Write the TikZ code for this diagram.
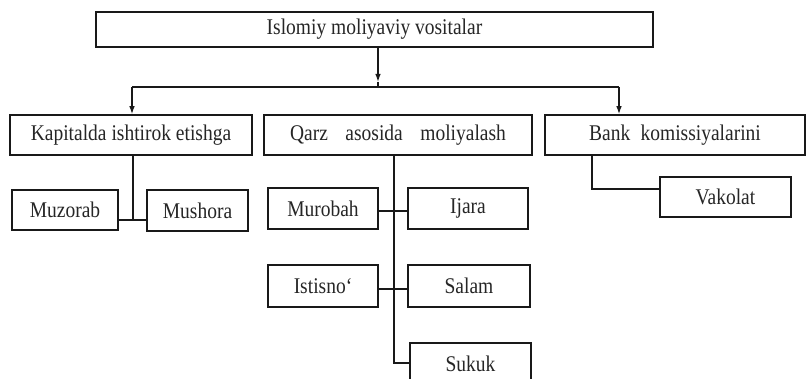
\documentclass[tikz,border=0pt]{standalone}
\usepackage{fontspec}
\usepackage{graphicx}
\setmainfont{Liberation Serif}
\usetikzlibrary{arrows.meta}
\newcommand{\mytx}[1]{\scalebox{1}[1.15]{#1}}
\tikzset{
  box/.style={draw=black!90, line width=1.5pt, inner sep=0pt, anchor=center,
    text=black!85, font=\fontsize{19.5}{22}\selectfont},
  conn/.style={draw=black!90, line width=1.3pt},
  arr/.style={conn, -{Latex[length=8pt,width=5.5pt]}}
}
\begin{document}
\begin{tikzpicture}[x=1pt,y=-1pt]
\useasboundingbox (0,0) rectangle (806,379);
\fill[white] (0,0) rectangle (806,379);
\clip (0,0) rectangle (806,379);
% boxes
\node[box, minimum width=557pt, minimum height=35pt] (top) at (374.5,29.5) {\mytx{Islomiy moliyaviy vositalar}};
\node[box, minimum width=242pt, minimum height=40pt] (kap) at (131,135) {\mytx{Kapitalda ishtirok etishga}};
\node[box, minimum width=268pt, minimum height=40pt] (qarz) at (398,135) {\mytx{Qarz\hspace{0.65em} asosida\hspace{0.65em} moliyalash}};
\node[box, minimum width=260pt, minimum height=40pt] (bank) at (675,135) {\mytx{Bank\hspace{0.28em} komissiyalarini}};
\node[box, minimum width=106pt, minimum height=40pt] (muz) at (65,210) {\mytx{Muzorab}};
\node[box, minimum width=101pt, minimum height=41pt] (mush) at (197.5,210.5) {\mytx{Mushora}};
\node[box, minimum width=110pt, minimum height=41pt] (mur) at (323,208.5) {\mytx{Murobah}};
\node[box, minimum width=120pt, minimum height=41pt] (ijara) at (468,208.5) {\mytx{Ijara}};
\node[box, minimum width=110pt, minimum height=42pt] (ist) at (323,286) {\mytx{Istisno‘}};
\node[box, minimum width=122pt, minimum height=42pt] (salam) at (469,286) {\mytx{Salam}};
\node[box, minimum width=121pt, minimum height=41pt] (sukuk) at (470.5,363.5) {\mytx{Sukuk}};
\node[box, minimum width=131pt, minimum height=40pt] (vak) at (725.5,197) {\mytx{Vakolat}};
% junction coordinates
\coordinate (jt) at (378,82);
\coordinate (j) at (378,87);
\coordinate (jl) at (132,87);
\coordinate (jr) at (619,87);
\coordinate (k1) at (133,220);
\coordinate (q1) at (394,211);
\coordinate (q2) at (394,289);
\coordinate (q3) at (394,363);
\coordinate (b1) at (592,189);
% connectors
\draw[arr] (top.south -| jt) -- (jt);
\draw[conn] (jt) -- (j);
\draw[conn] (jl) -- (jr);
\draw[arr] (jl) -- (jl |- kap.north);
\draw[arr] (jr) -- (jr |- bank.north);
\draw[conn] (kap.south -| k1) -- (k1);
\draw[conn] (muz.east |- k1) -- (mush.west |- k1);
\draw[conn] (qarz.south -| q3) -- (q3) -- (sukuk.west |- q3);
\draw[conn] (mur.east |- q1) -- (ijara.west |- q1);
\draw[conn] (ist.east |- q2) -- (salam.west |- q2);
\draw[conn] (bank.south -| b1) -- (b1) -- (vak.west |- b1);
\end{tikzpicture}
\end{document}
